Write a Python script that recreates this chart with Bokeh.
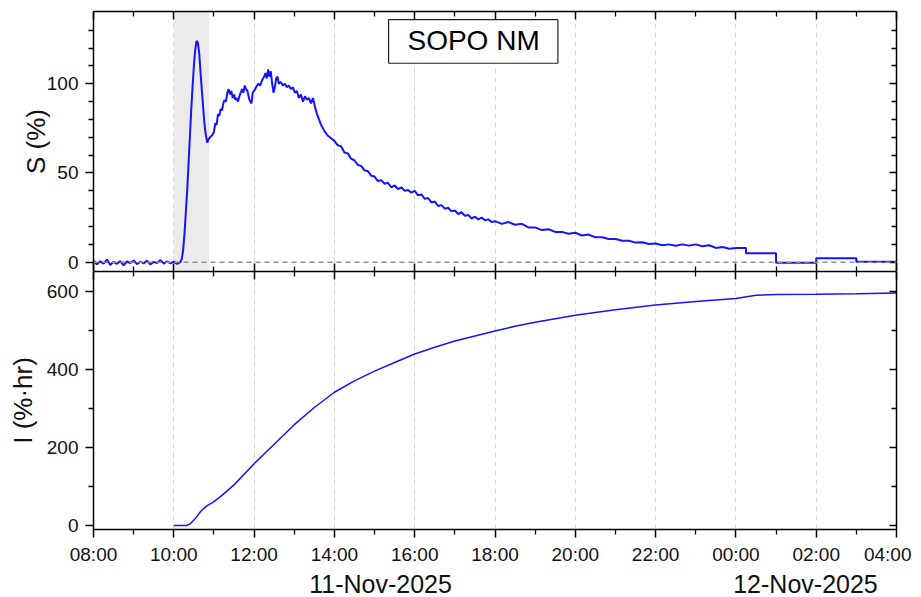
import pandas as pd
from bokeh.plotting import figure
from bokeh.layouts import column
from bokeh.models import (FixedTicker, DatetimeTickFormatter, LinearAxis, DatetimeAxis,
                          Span, BoxAnnotation, Label, Range1d)
from bokeh.embed import file_html
from bokeh.resources import INLINE

DAY = "2025-11-11"

# ---- S (%) (times after midnight written as 24:xx, 25:xx ...)
s_time = [
    "08:00", "08:05", "08:10", "08:15", "08:20", "08:25", "08:30", "08:35", "08:40", "08:45",
    "08:50", "08:55", "09:00", "09:05", "09:10", "09:15", "09:20", "09:25", "09:30", "09:35",
    "09:40", "09:45", "09:50", "09:55", "10:00", "10:05", "10:10",
    "10:12", "10:14", "10:16", "10:18", "10:20", "10:22", "10:24", "10:26", "10:28", "10:30",
    "10:32", "10:34", "10:36", "10:38", "10:40", "10:42", "10:44", "10:46", "10:48", "10:50",
    "10:52", "10:54", "10:57", "11:00", "11:02", "11:04", "11:06", "11:08", "11:10", "11:12",
    "11:14", "11:16", "11:18", "11:20", "11:22", "11:24", "11:26", "11:28", "11:30", "11:32",
    "11:34", "11:36", "11:38", "11:40", "11:42", "11:44", "11:46", "11:48", "11:50", "11:53",
    "11:56", "11:58", "12:00", "12:03", "12:06", "12:09", "12:12", "12:15", "12:17", "12:19",
    "12:21", "12:23", "12:25", "12:27", "12:29", "12:31", "12:33", "12:35", "12:37", "12:40",
    "12:43", "12:46", "12:49", "12:52", "12:55", "12:58", "13:01", "13:04", "13:07", "13:10",
    "13:13", "13:16", "13:19", "13:22", "13:25", "13:28", "13:31", "13:34", "13:37", "13:40",
    "13:43", "13:46", "13:50", "13:55",
    "14:00", "14:05", "14:10", "14:15", "14:20", "14:25", "14:30", "14:35", "14:40", "14:45",
    "14:50", "14:55", "15:00", "15:05", "15:10", "15:15", "15:20", "15:25", "15:30", "15:35",
    "15:40", "15:45", "15:50", "15:55", "16:00", "16:05", "16:10", "16:15", "16:20", "16:25",
    "16:30", "16:35", "16:40", "16:45", "16:50", "16:55", "17:00", "17:05", "17:10", "17:15",
    "17:20", "17:25", "17:30", "17:35", "17:40", "17:45", "17:50", "17:55", "18:00",
    "18:10", "18:20", "18:30", "18:40", "18:50", "19:00", "19:10", "19:20", "19:30", "19:40",
    "19:50", "20:00", "20:10", "20:20", "20:30", "20:40", "20:50", "21:00", "21:10", "21:20",
    "21:30", "21:40", "21:50", "22:00", "22:10", "22:20", "22:30", "22:40", "22:50", "23:00",
    "23:10", "23:20", "23:30", "23:40", "23:50", "24:00",
]
s_val = [
    0.8, -1.2, 0.5, -0.8, 1.5, -1.5, 0.2, -0.9, 0.6, -1.8,
    0.4, -0.5, 1.0, -1.1, 0.3, -0.7, 0.9, -1.3, 0.2, -0.4,
    1.2, -0.8, 0.5, -0.6, 0.3, -1.0, 0.2,
    2, 7, 16, 28, 40, 55, 70, 85, 98, 110,
    119, 124, 123, 117, 106, 96, 86, 77, 71, 67,
    69, 70, 71, 73, 78, 77, 83, 82, 86, 85,
    89, 91, 90, 95, 97, 94, 96, 92, 94, 91,
    92, 90, 93, 95, 97, 95, 99, 97, 96, 91,
    89, 95, 96, 98, 100, 99, 102, 104, 106, 103,
    108, 104, 107, 100, 95, 98, 103, 104, 100, 101,
    99, 100, 98, 99, 97, 98, 95, 96, 92, 94,
    90, 93, 91, 92, 89, 92, 87, 83, 80, 77,
    75, 73, 71, 69.5,
    68, 65.5, 65, 61.5, 61, 58, 57, 54.5, 54, 51.5,
    51, 48.5, 48, 45.5, 46, 44, 44.5, 42, 43, 41,
    42, 40, 40.5, 39, 40, 37.5, 38, 35.5, 36, 33.5,
    34, 31.5, 32, 30, 30.5, 28.5, 29, 27, 28, 26,
    26.5, 24.5, 25.5, 24, 25, 23.5, 24, 22.5, 23,
    21.5, 22.5, 21, 21.5, 19.5, 19.5, 18, 18.5, 17, 17,
    16, 16.5, 15, 15.5, 14, 14, 13, 13, 12, 12,
    11, 11.2, 10.2, 10.5, 9.5, 10, 9.2, 10, 9.3, 10,
    9, 9.5, 8, 8.5, 7.5, 8,
]
# hourly (step) part after midnight
tail_time = ["24:00", "24:15", "25:00", "26:00", "27:00", "28:00"]
tail_val = [8.0, 5.0, -0.3, 2.2, 0.3, 0.3]

# ---- I (%·hr)
i_time = ["10:00", "10:19", "10:25", "10:30", "10:35", "10:40", "10:45", "10:50", "11:00",
          "11:12", "11:30", "12:00", "12:30", "13:00", "13:30", "14:00", "14:30", "15:00",
          "15:30", "16:00", "16:30", "17:00", "17:30", "18:00", "18:30", "19:00", "20:00",
          "21:00", "22:00", "23:00", "24:00", "24:30", "25:00", "26:00", "27:00", "28:00"]
i_val = [0, 0, 5, 14, 24, 36, 44, 51, 61,
         77, 104, 158, 208, 258, 302, 341, 370, 395,
         417, 439, 456, 472, 485, 498, 510, 520, 538,
         552, 564, 573, 581, 589, 591, 591.5, 593, 595]

x_major = ["08:00", "10:00", "12:00", "14:00", "16:00", "18:00", "20:00", "22:00",
           "24:00", "26:00", "28:00"]
x_minor = ["09:00", "11:00", "13:00", "15:00", "17:00", "19:00", "21:00", "23:00",
           "25:00", "27:00"]
s_ticks = [0, 50, 100]
s_minor = [10, 20, 30, 40, 60, 70, 80, 90, 110, 120, 130]
i_ticks = [0, 200, 400, 600]
i_minor = [100, 300, 500]
date_label_time = ["15:09", "25:44"]   # labelled "11-Nov-2025", "12-Nov-2025"
station = "SOPO NM"


def to_dt(s):
    h, m = s.split(":")
    return pd.Timestamp(DAY) + pd.Timedelta(hours=int(h), minutes=int(m))


def to_ms(s):
    return to_dt(s).value / 1e6


FONT = "Liberation Sans"
BLUE = "#1414ff"
TXT = "#111111"

xr = Range1d(start=to_ms("08:00"), end=to_ms("28:00"))
xticker = FixedTicker(ticks=[to_ms(t) for t in x_major], minor_ticks=[to_ms(t) for t in x_minor])
xfmt = DatetimeTickFormatter(hours="%H:%M", hourmin="%H:%M", minutes="%H:%M", days="%H:%M",
                             minsec="%H:%M", seconds="%H:%M")
DFMT = "%d-%b-%Y"
dfmt = DatetimeTickFormatter(microseconds=DFMT, milliseconds=DFMT, seconds=DFMT, minsec=DFMT,
                             minutes=DFMT, hourmin=DFMT, hours=DFMT, days=DFMT, months=DFMT,
                             years=DFMT)


def style_hidden_axis(ax, tick_in=8, minor_in=5):
    ax.major_label_text_font_size = "0px"
    ax.major_label_text_color = None
    ax.major_label_standoff = 0
    ax.major_tick_in = tick_in
    ax.major_tick_out = 0
    ax.minor_tick_in = minor_in
    ax.minor_tick_out = 0
    ax.axis_line_width = 1.5
    ax.major_tick_line_width = 1.5
    ax.minor_tick_line_width = 1.3
    ax.axis_line_color = "black"


def style_left(ax, label, standoff):
    ax.axis_label = label
    ax.axis_label_text_font = FONT
    ax.axis_label_text_font_size = "26px"
    ax.axis_label_text_font_style = "normal"
    ax.axis_label_text_color = TXT
    ax.axis_label_standoff = standoff
    ax.major_label_text_font = FONT
    ax.major_label_text_font_size = "19px"
    ax.major_label_text_color = TXT
    ax.major_label_standoff = 7
    ax.major_tick_out = 8
    ax.major_tick_in = 0
    ax.minor_tick_out = 5
    ax.minor_tick_in = 0
    ax.axis_line_width = 1.5
    ax.major_tick_line_width = 1.5
    ax.minor_tick_line_width = 1.3


def base_fig(yr, fh, bt, bb):
    p = figure(frame_width=803, frame_height=fh, x_range=xr, y_range=yr,
               x_axis_type="datetime", output_backend="svg", toolbar_location=None,
               min_border_left=93, min_border_right=15, min_border_top=bt, min_border_bottom=bb)
    p.outline_line_color = None
    p.background_fill_color = "white"
    p.border_fill_color = "white"
    p.ygrid.visible = False
    p.xgrid.ticker = xticker
    p.xgrid.grid_line_color = "#d6d6d6"
    p.xgrid.grid_line_dash = "5 4"
    p.xgrid.grid_line_width = 1
    p.xaxis.ticker = xticker
    p.xaxis.formatter = xfmt
    return p


# ---------------- top panel ----------------
p1 = base_fig(Range1d(-5.2, 140.5), 260, 11, 0)
p1.add_layout(BoxAnnotation(left=to_ms("10:00"), right=to_ms("10:53"), fill_color="#ebebeb",
                            fill_alpha=1, line_color=None, level="underlay"))
p1.add_layout(Span(location=0, dimension="width", line_color="#8f8f8f", line_dash="5 4",
                   line_width=1.5))
p1.line([to_dt(t) for t in s_time], s_val, line_color=BLUE, line_width=2)
p1.step([to_dt(t) for t in tail_time], tail_val, mode="after", line_color=BLUE, line_width=2)

style_hidden_axis(p1.xaxis[0])
top1 = DatetimeAxis(ticker=xticker, formatter=xfmt)
style_hidden_axis(top1)
p1.add_layout(top1, "above")
p1.yaxis.ticker = FixedTicker(ticks=s_ticks, minor_ticks=s_minor)
style_left(p1.yaxis[0], "S (%)", -7)
r1 = LinearAxis(ticker=FixedTicker(ticks=s_ticks, minor_ticks=s_minor))
style_hidden_axis(r1, 7, 5)
p1.add_layout(r1, "right")

p1.add_layout(BoxAnnotation(left=to_ms("15:21"), right=to_ms("19:34"), bottom=111.5, top=136.0,
                            fill_color="white", fill_alpha=1, line_color="#222222",
                            line_width=1.2, line_alpha=1, level="overlay"))
p1.add_layout(Label(x=to_ms("17:28"), y=124.0, text=station, text_align="center",
                    text_baseline="middle", text_font=FONT, text_font_size="28px",
                    text_color="black", level="overlay"))

# ---------------- bottom panel ----------------
p2 = base_fig(Range1d(-10.2, 650), 258, 0, 66)
p2.line([to_dt(t) for t in i_time], i_val, line_color=BLUE, line_width=1.5)

bx = p2.xaxis[0]
bx.major_label_text_font = FONT
bx.major_label_text_font_size = "19px"
bx.major_label_text_color = TXT
bx.major_label_standoff = 6
bx.major_tick_out = 8
bx.major_tick_in = 0
bx.minor_tick_out = 5
bx.minor_tick_in = 0
bx.axis_line_width = 1.5
bx.major_tick_line_width = 1.5
bx.minor_tick_line_width = 1.3

# date axis (second axis below)
dax = DatetimeAxis(ticker=FixedTicker(ticks=[to_ms(t) for t in date_label_time], minor_ticks=[]),
                   formatter=dfmt)
dax.axis_line_color = None
dax.major_tick_line_color = None
dax.minor_tick_line_color = None
dax.major_tick_out = 0
dax.major_tick_in = 0
dax.major_label_standoff = 2
dax.major_label_text_font = FONT
dax.major_label_text_font_size = "25px"
dax.major_label_text_color = TXT
p2.add_layout(dax, "below")

top2 = DatetimeAxis(ticker=xticker, formatter=xfmt)
style_hidden_axis(top2)
p2.add_layout(top2, "above")
p2.yaxis.ticker = FixedTicker(ticks=i_ticks, minor_ticks=i_minor)
style_left(p2.yaxis[0], "I (%·hr)", 6)
r2 = LinearAxis(ticker=FixedTicker(ticks=i_ticks, minor_ticks=i_minor))
style_hidden_axis(r2, 7, 5)
p2.add_layout(r2, "right")

layout = column(p1, p2, spacing=0)
open("out.html", "w").write(file_html(layout, INLINE))
